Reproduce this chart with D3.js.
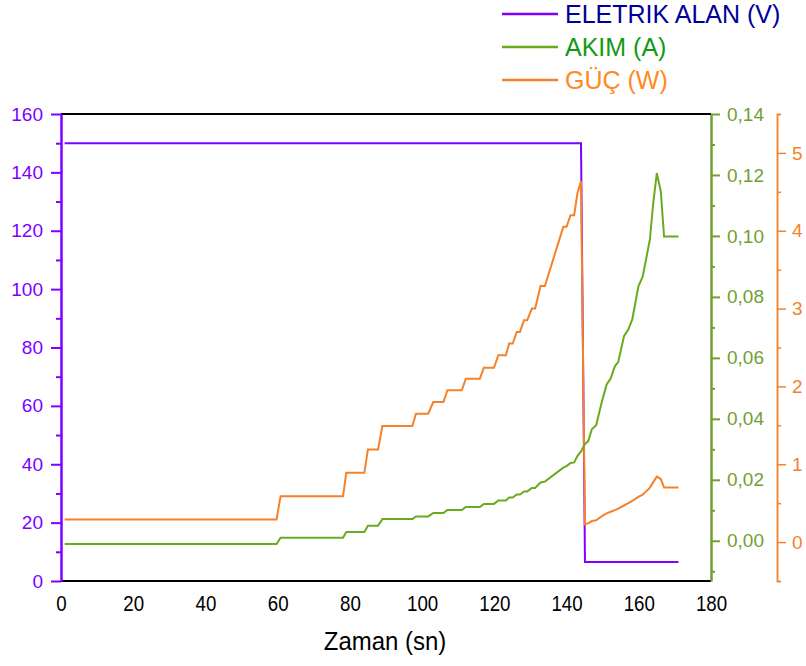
<!DOCTYPE html>
<html>
<head>
<meta charset="utf-8">
<script src="https://cdn.jsdelivr.net/npm/d3@7"></script>
<style>
  body { margin: 0; background: #fff; }
  svg { font-family: "Liberation Sans", Arial, sans-serif; }
</style>
</head>
<body>
<svg width="806" height="666"></svg>
<script>
// values
var elektrikZaman = [1, 144.0, 145.1, 171.0];
var elektrikAlan = [150, 150, 6.5, 6.5];

var zaman = [1, 59.7, 60.8, 78.1, 79.0, 84.0, 85.0, 87.8, 89.0, 97.3, 98.3, 101.7, 103.1, 105.9,
    107.0, 111.0, 112.1, 116.0, 117.1, 119.9, 121.1, 123.2, 124.1, 125.1, 126.2, 127.1, 128.2,
    129.1, 130.4, 131.3, 132.8, 134.0, 139.1, 140.0, 141.1, 142.1, 143.0, 144.0, 145.1, 146.0,
    147.0, 148.2, 149.7, 151.1, 152.2, 153.4, 154.3, 155.9, 157.1, 158.2, 159.9, 161.1, 163.1,
    164.0, 165.0, 166.1, 167.0, 171.0];
var akim = [-0.0011, -0.0011, 0.0010, 0.0010, 0.0029, 0.0029, 0.0049, 0.0049, 0.0071, 0.0071,
    0.0080, 0.0080, 0.0091, 0.0091, 0.0101, 0.0101, 0.0111, 0.0111, 0.0121, 0.0121, 0.0132,
    0.0132, 0.0142, 0.0142, 0.0152, 0.0152, 0.0162, 0.0162, 0.0173, 0.0173, 0.0191, 0.0194,
    0.0240, 0.0245, 0.0255, 0.0257, 0.0278, 0.0293, 0.0317, 0.0327, 0.0366, 0.0379, 0.0453,
    0.0513, 0.0532, 0.0573, 0.0586, 0.0671, 0.0693, 0.0726, 0.0835, 0.0867, 0.0990, 0.1108,
    0.1206, 0.1146, 0.0998, 0.0998];
var guc = [0.29, 0.29, 0.59, 0.59, 0.89, 0.89, 1.19, 1.19, 1.49, 1.49, 1.65, 1.65, 1.80, 1.80,
    1.95, 1.95, 2.10, 2.10, 2.24, 2.24, 2.40, 2.40, 2.55, 2.55, 2.70, 2.70, 2.85, 2.85, 3.00,
    3.00, 3.29, 3.29, 4.05, 4.05, 4.20, 4.20, 4.48, 4.64, 0.23, 0.24, 0.27, 0.28, 0.33, 0.37,
    0.39, 0.41, 0.43, 0.47, 0.50, 0.53, 0.58, 0.61, 0.70, 0.77, 0.84, 0.81, 0.70, 0.70];

var xTicks = [0, 20, 40, 60, 80, 100, 120, 140, 160, 180];
var voltTicks = [0, 20, 40, 60, 80, 100, 120, 140, 160];
var akimTicks = [0, 0.02, 0.04, 0.06, 0.08, 0.10, 0.12, 0.14];
var gucTicks = [0, 1, 2, 3, 4, 5];
var seriesNames = ["ELETRIK ALAN (V)", "AKIM (A)", "GÜÇ (W)"];

var mor = "#8000ff", yesil = "#6aaa1e", yesilEksen = "#70a032", turuncu = "#f5822a";

var svg = d3.select("svg");
var pLeft = 61, pRight = 711, pTop = 114, pBottom = 581;

var x = d3.scaleLinear().domain([0, 180]).range([pLeft, pRight]);
var yV = d3.scaleLinear().domain([0, 160]).range([pBottom, pTop]);
var yA = d3.scaleLinear().domain([-0.0132, 0.14]).range([pBottom, pTop]);
var yW = d3.scaleLinear().domain([-0.5, 5.5]).range([pBottom, pTop]);

// frame
svg.append("line").attr("x1", pLeft).attr("x2", pRight).attr("y1", pTop).attr("y2", pTop)
    .attr("stroke", "#000").attr("stroke-width", 2);
svg.append("line").attr("x1", pLeft).attr("x2", pRight).attr("y1", pBottom).attr("y2", pBottom)
    .attr("stroke", "#000").attr("stroke-width", 2);

function minorOf(ticks, step) {
    var out = [];
    for (var i = 0; i < ticks.length - 1; i++) out.push(ticks[i] + step / 2);
    return out;
}

function styleAxis(g, color, width) {
    g.attr("font-family", "Liberation Sans, Arial, sans-serif").attr("font-size", 19);
    g.select(".domain").attr("stroke", color).attr("stroke-width", width);
    g.selectAll(".tick line").attr("stroke", color).attr("stroke-width", width);
    g.selectAll(".tick text").attr("fill", color);
}

// x axis (labels only, a bit narrow like the original)
var gx = svg.append("g").attr("transform", "translate(0," + pBottom + ")")
    .call(d3.axisBottom(x).tickValues(xTicks).tickSize(0).tickPadding(14));
gx.attr("font-family", "Liberation Sans, Arial, sans-serif").attr("font-size", 22);
gx.select(".domain").remove();
gx.selectAll("text").attr("fill", "#000").attr("transform", "scale(0.85,1)");

// left axis
var gvm = svg.append("g").attr("transform", "translate(" + pLeft + ",0)")
    .call(d3.axisLeft(yV).tickValues(minorOf(voltTicks, 20)).tickSize(5).tickSizeOuter(0).tickFormat(""));
styleAxis(gvm, mor, 2);
var gv = svg.append("g").attr("transform", "translate(" + pLeft + ",0)")
    .call(d3.axisLeft(yV).tickValues(voltTicks).tickSize(10).tickSizeOuter(0).tickPadding(8)
        .tickFormat(d3.format("d")));
styleAxis(gv, mor, 2);

// current axis
var fmt = d3.format(".2f");
var gam = svg.append("g").attr("transform", "translate(" + pRight + ",0)")
    .call(d3.axisRight(yA).tickValues(minorOf(akimTicks, 0.02).concat([-0.01])).tickSize(4).tickSizeOuter(0).tickFormat(""));
styleAxis(gam, yesilEksen, 2);
var ga = svg.append("g").attr("transform", "translate(" + pRight + ",0)")
    .call(d3.axisRight(yA).tickValues(akimTicks).tickSize(9).tickSizeOuter(0).tickPadding(7)
        .tickFormat(function (d) { return fmt(d).replace(".", ","); }));
styleAxis(ga, yesilEksen, 2);

// power axis
var pw = 777;
var gwm = svg.append("g").attr("transform", "translate(" + pw + ",0)")
    .call(d3.axisRight(yW).tickValues(minorOf(gucTicks, 1)).tickSize(4).tickSizeOuter(4).tickFormat(""));
styleAxis(gwm, turuncu, 1.5);
var gw = svg.append("g").attr("transform", "translate(" + pw + ",0)")
    .call(d3.axisRight(yW).tickValues(gucTicks).tickSize(9).tickSizeOuter(4).tickPadding(6)
        .tickFormat(d3.format("d")));
styleAxis(gw, turuncu, 1.5);

// lines
var line = d3.line();
svg.append("path")
    .attr("d", line(elektrikZaman.map(function (t, i) { return [x(t), yV(elektrikAlan[i])]; })))
    .attr("fill", "none").attr("stroke", mor).attr("stroke-width", 2);
svg.append("path")
    .attr("d", line(zaman.map(function (t, i) { return [x(t), yW(guc[i])]; })))
    .attr("fill", "none").attr("stroke", turuncu).attr("stroke-width", 2);
svg.append("path")
    .attr("d", line(zaman.map(function (t, i) { return [x(t), yA(akim[i])]; })))
    .attr("fill", "none").attr("stroke", yesil).attr("stroke-width", 2);

// axis title
svg.append("g").attr("transform", "translate(" + ((pLeft + pRight) / 2 - 1) + ",650) scale(0.94,1)")
    .append("text").attr("text-anchor", "middle").attr("font-size", 25.5).text("Zaman (sn)");

// legend
var lineColors = [mor, yesil, turuncu];
var textColors = ["#000099", "#129a12", "#ff8a1e"];
var leg = svg.append("g");
seriesNames.forEach(function (name, i) {
    var yy = 14 + i * 33;
    leg.append("line").attr("x1", 502).attr("x2", 558).attr("y1", yy).attr("y2", yy)
        .attr("stroke", lineColors[i]).attr("stroke-width", 2.5);
    leg.append("text").attr("x", 565).attr("y", yy + 9)
        .attr("font-size", 25).attr("fill", textColors[i]).text(name);
});
</script>
</body>
</html>
